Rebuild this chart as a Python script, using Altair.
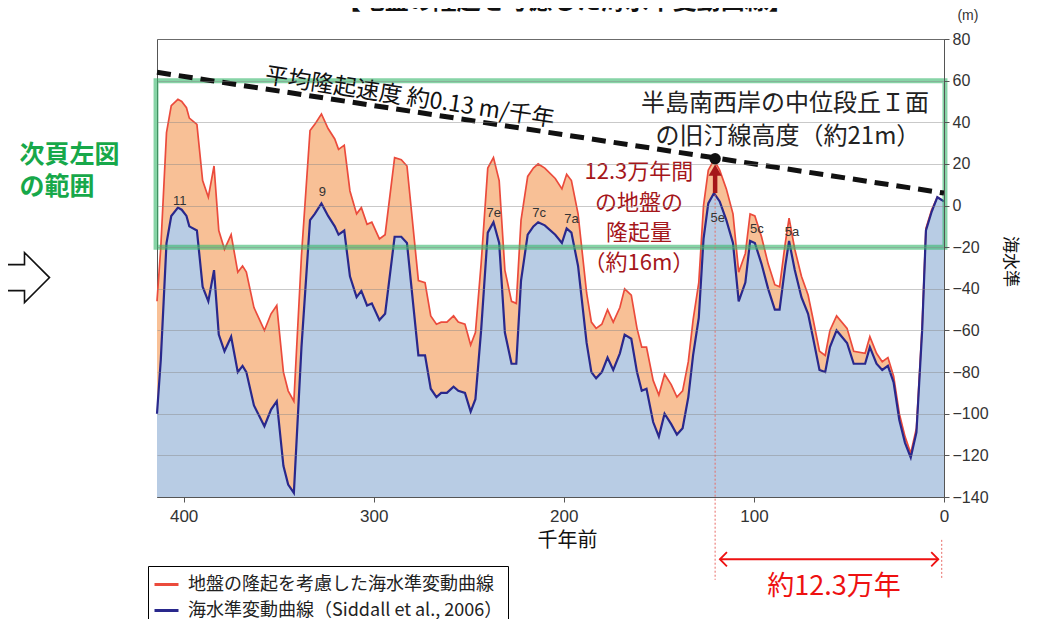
import altair as alt
import pandas as pd

# ---------------- data ----------------
TIME_KY = [414, 412, 409, 406.5, 403, 401, 398.5, 397, 393, 390,
           387, 384, 381.5, 378.5, 375, 371.5, 369, 367, 363, 357.5,
           354, 351, 347.5, 345, 342, 338, 333.5, 331, 327.5, 324,
           320.5, 318.5, 315.5, 312.5, 309, 306.5, 303.5, 301, 297, 294,
           289, 285.5, 282.5, 276.5, 273, 270, 267, 264.5, 261.5, 258,
           255.5, 252, 249, 246.5, 243.5, 240, 237, 234, 231, 227.5,
           225, 222.5, 219, 216, 213.5, 210, 204.5, 201, 198.5, 196,
           192.5, 188, 185.5, 183, 180, 177, 174, 170.5, 168, 164.5,
           161.5, 159, 156.5, 153, 150, 147, 143.5, 140.5, 137.5, 134.5,
           132, 129, 126.5, 124, 121, 118, 114.5, 111, 108, 104.5,
           102, 99.5, 96, 92.5, 89, 86.5, 83.5, 81.5, 78.5, 75,
           71.5, 69, 65.5, 62.5, 60, 56.5, 51, 47.5, 41.5, 39,
           35.5, 32.5, 29.5, 26.5, 23.5, 20.5, 17.5, 14.5, 11.5, 9.5,
           6.5, 3.5, 0]

SEA_LEVEL_M = [-100, -74, -18, -5, -1, -2, -5, -10, -12, -39,
               -46, -31, -62, -70, -63, -80, -77, -80, -96, -106,
               -98, -94, -125, -134, -138, -68, -7, -4, 1, -5,
               -10, -14, -12, -34, -44, -41, -48, -47, -55, -52,
               -15, -15, -18, -72, -72, -88, -92, -90, -90, -87,
               -89, -90, -99, -93, -60, -13, -8, -18, -61, -76,
               -76, -36, -14, -10, -8, -9.5, -14, -18, -11, -13,
               -29, -66, -80, -83, -80, -73, -79, -71, -62, -64,
               -80, -89, -88, -104, -111, -100, -105, -110, -107, -92,
               -72, -54, -16, 1, 6, 2, -7, -18, -46, -37,
               -17, -18, -28, -40, -50, -50, -29, -17, -31, -44,
               -52, -63, -79, -80, -68, -60, -66, -76, -76, -68,
               -76, -79, -77, -85, -103, -114, -121, -109, -60, -12,
               -3, 4, 2]

UPLIFTED_M = [-46, -20, 35, 48, 51, 50, 47, 42, 39, 12,
              4, 19, -12, -21, -14, -32, -29, -32, -49, -60,
              -52, -48, -80, -89, -94, -24, 36, 39, 44, 37,
              32, 27, 29, 7, -4, -1, -9, -8, -16, -14,
              23, 22, 19, -36, -37, -53, -57, -56, -56, -53,
              -56, -57, -67, -61, -28, 18, 23, 12, -31, -46,
              -47, -7, 14, 18, 20, 18, 13, 8, 15, 12,
              -4, -42, -56, -59, -57, -50, -56, -49, -40, -43,
              -59, -68, -68, -84, -91, -81, -86, -92, -89, -75,
              -55, -37, 0, 17, 22, 17, 8, -4, -32, -23,
              -4, -5, -15, -28, -38, -39, -18, -6, -21, -34,
              -43, -54, -70, -72, -60, -53, -59, -70, -71, -63,
              -71, -75, -73, -82, -100, -111, -119, -107, -58, -11,
              -2, 4, 2]

SERIES_NAMES = ["地盤の隆起を考慮した海水準変動曲線", "海水準変動曲線（Siddall et al., 2006）"]
SERIES_COLORS = ["#eb4b3c", "#29288c"]

X_TICKS = [400, 300, 200, 100, 0]
Y_TICKS = [-140, -120, -100, -80, -60, -40, -20, 0, 20, 40, 60, 80]

PEAK_LABELS = ["11", "9", "7e", "7c", "7a", "5e", "5c", "5a"]
PEAK_T = [402, 327, 236.8, 213, 196, 119, 98.4, 80]
PEAK_V = [2, 6.3, -3.8, -3.8, -6.7, -5.8, -11.5, -12.5]

UPLIFT_LINE_T = [0, 414]
UPLIFT_LINE_V = [6, 64]

TERRACE_T, TERRACE_V = 120.4, 22.5       # 旧汀線高度の点
BLUE_5E_V = 6
RANGE_BOX_T = [414.5, -0.5]
RANGE_BOX_V = [60, -20]

JP = "Noto Sans CJK JP"

# ---------------- tables ----------------
wide = pd.DataFrame({"t": TIME_KY, "blue": SEA_LEVEL_M, "red": UPLIFTED_M})
red_df = pd.DataFrame({"t": TIME_KY, "v": UPLIFTED_M, "series": SERIES_NAMES[0]})
blue_df = pd.DataFrame({"t": TIME_KY, "v": SEA_LEVEL_M, "series": SERIES_NAMES[1]})

XS = alt.Scale(domain=[0, 414], reverse=True, nice=False, zero=False)
YS = alt.Scale(domain=[-140, 80], nice=False, zero=False)
XA = alt.Axis(values=X_TICKS, title="千年前", titleX=410, titleFontSize=20, titleFont=JP,
              titleFontWeight="normal", titleColor="#111", titlePadding=6,
              labelFontSize=17, labelFont="Liberation Sans", labelColor="#333",
              labelPadding=6, labelFlush=False, tickSize=5, tickColor="#555",
              domainColor="#555", grid=False, zindex=1)
YA = alt.Axis(orient="right", values=Y_TICKS, title=None, grid=True, gridColor="#888888",
              gridOpacity=0.45, labelFontSize=16, labelFont="Liberation Sans",
              labelColor="#333", labelPadding=3, labelFlush=False, tickSize=5,
              tickColor="#555", domainColor="#555", zindex=1)


def X(field="t"):
    return alt.X(f"{field}:Q", scale=XS, axis=XA)


def Y(field="v"):
    return alt.Y(f"{field}:Q", scale=YS, axis=YA)


color_enc = alt.Color(
    "series:N",
    scale=alt.Scale(domain=SERIES_NAMES, range=SERIES_COLORS),
    legend=alt.Legend(orient="none", legendX=-9, legendY=527, title=None,
                      strokeColor="black", fillColor="white", padding=5,
                      symbolType="stroke", symbolSize=576, symbolStrokeWidth=3,
                      labelFontSize=18, labelFont=JP, labelColor="#222",
                      labelLimit=600, labelOffset=8, rowPadding=3, cornerRadius=0),
)

blue_area = alt.Chart(wide).mark_area(color="#b8cce4", opacity=1).encode(
    x=X(), y=Y("blue"), y2=alt.datum(-140))
orange_area = alt.Chart(wide).mark_area(color="#f8c096", opacity=1).encode(
    x=X(), y=Y("red"), y2=alt.Y2("blue:Q"))

red_line = alt.Chart(red_df).mark_line(strokeWidth=1.7).encode(x=X(), y=Y(), color=color_enc)
blue_line = alt.Chart(blue_df).mark_line(strokeWidth=2.2).encode(x=X(), y=Y(), color=color_enc)

box_df = pd.DataFrame({"t": [RANGE_BOX_T[0]], "t2": [RANGE_BOX_T[1]],
                       "v": [RANGE_BOX_V[0]], "v2": [RANGE_BOX_V[1]]})
green_box = alt.Chart(box_df).mark_rect(filled=False, stroke="#35b86a", strokeWidth=5,
                                        strokeOpacity=0.6).encode(
    x=X(), x2="t2:Q", y=Y(), y2="v2:Q")

uplift_df = pd.DataFrame({"t": UPLIFT_LINE_T, "v": UPLIFT_LINE_V})
uplift_line = alt.Chart(uplift_df).mark_line(color="#111", strokeWidth=5,
                                             strokeDash=[14, 8]).encode(x=X(), y=Y())

dotted_df = pd.DataFrame({"t": [TERRACE_T, 1.2], "v": [TERRACE_V, -160.6],
                          "v2": [-179.8, -179.8]})
dotted = alt.Chart(dotted_df).mark_rule(color="#e86a66", strokeWidth=1,
                                        strokeDash=[2, 2]).encode(x=X(), y=Y(), y2="v2:Q")

shaft_df = pd.DataFrame({"t": [TERRACE_T], "v": [BLUE_5E_V], "v2": [15.5]})
shaft = alt.Chart(shaft_df).mark_rule(color="#a5161a", strokeWidth=4.5).encode(
    x=X(), y=Y(), y2="v2:Q")
head_df = pd.DataFrame({"t": [TERRACE_T], "v": [17]})
head = alt.Chart(head_df).mark_point(shape="triangle-up", filled=True, color="#a5161a",
                                     size=170, opacity=1).encode(x=X(), y=Y())
dot_df = pd.DataFrame({"t": [TERRACE_T], "v": [TERRACE_V]})
dot = alt.Chart(dot_df).mark_point(shape="circle", filled=True, color="#111",
                                   size=130, opacity=1).encode(x=X(), y=Y())

span_df = pd.DataFrame({"t": [117.9], "t2": [3.0], "v": [-169.9]})
span = alt.Chart(span_df).mark_rule(color="#ee1111", strokeWidth=1.8).encode(
    x=X(), x2="t2:Q", y=Y())
lhead = alt.Chart(pd.DataFrame({"t": [117.9], "v": [-169.9]})).mark_point(
    shape="M1,-1L0,0L1,1", filled=False, stroke="#ee1111", strokeWidth=1.8, size=200,
    opacity=1).encode(x=X(), y=Y())
rhead = alt.Chart(pd.DataFrame({"t": [3.0], "v": [-169.9]})).mark_point(
    shape="M-1,-1L0,0L-1,1", filled=False, stroke="#ee1111", strokeWidth=1.8, size=200,
    opacity=1).encode(x=X(), y=Y())

block_arrow = alt.Chart(pd.DataFrame({"t": [483.7], "v": [-34.6]})).mark_point(
    shape="M-1.5,-0.52L0,-0.52L0,-1L1,0L0,1L0,0.52L-1.5,0.52Z", filled=True,
    fill="white", stroke="#111", strokeWidth=1.6, size=2500, opacity=1).encode(x=X(), y=Y())


def text_layer(texts, ts, vs, size, color="#222", weight="normal", align="center",
               baseline="middle", angle=0, font=JP):
    df = pd.DataFrame({"t": ts, "v": vs, "label": texts})
    return alt.Chart(df).mark_text(fontSize=size, color=color, fontWeight=weight,
                                   align=align, baseline=baseline, angle=angle,
                                   font=font).encode(x=X(), y=Y(), text="label:N")


peaks = text_layer(PEAK_LABELS, PEAK_T, PEAK_V, 13, color="#333", font="Liberation Sans")
title = text_layer(["【地盤の隆起を考慮した海水準変動曲線】"], [199.5], [92], 24,
                   color="#111", weight="bold", baseline="bottom")
unit = text_layer(["(m)"], [-12.6], [91.0], 14, color="#333", font="Liberation Sans")
ylab = text_layer(["海水準"], [-34.7], [-26.9], 17, color="#111", angle=90)
rate = text_layer(["平均隆起速度 約0.13 m/千年"], [281], [51.8], 23, color="#111", angle=8.7)
terrace = text_layer(["半島南西岸の中位段丘Ｉ面", "の旧汀線高度（約21m）"],
                     [83.7, 82.1], [48.6, 32.7], 24, color="#222")
uplift_txt = text_layer(["12.3万年間", "の地盤の", "隆起量", "（約16m）"],
                        [160.5] * 4, [15.9, 1.4, -13, -27.4], 22, color="#a5161a")
green_txt = text_layer(["次頁左図", "の範囲"], [486.3, 486.3], [24.5, 8.7], 25,
                       color="#17a84a", weight="bold", align="left")
span_txt = text_layer(["約12.3万年"], [57.9], [-183.3], 27, color="#ee1111")

chart = alt.layer(
    blue_area, orange_area, red_line, blue_line, green_box, uplift_line, dotted,
    shaft, head, dot, span, lhead, rhead, block_arrow,
    peaks, title, unit, ylab, rate, terrace, uplift_txt, green_txt, span_txt,
).properties(
    width=787, height=458,
    autosize=alt.AutoSizeParams(type="none"),
    padding={"left": 149, "top": 31, "right": 88, "bottom": 122},
).configure_view(stroke="#555555", strokeWidth=1)

chart.save("out.html", embed_options={"renderer": "svg", "actions": False})
